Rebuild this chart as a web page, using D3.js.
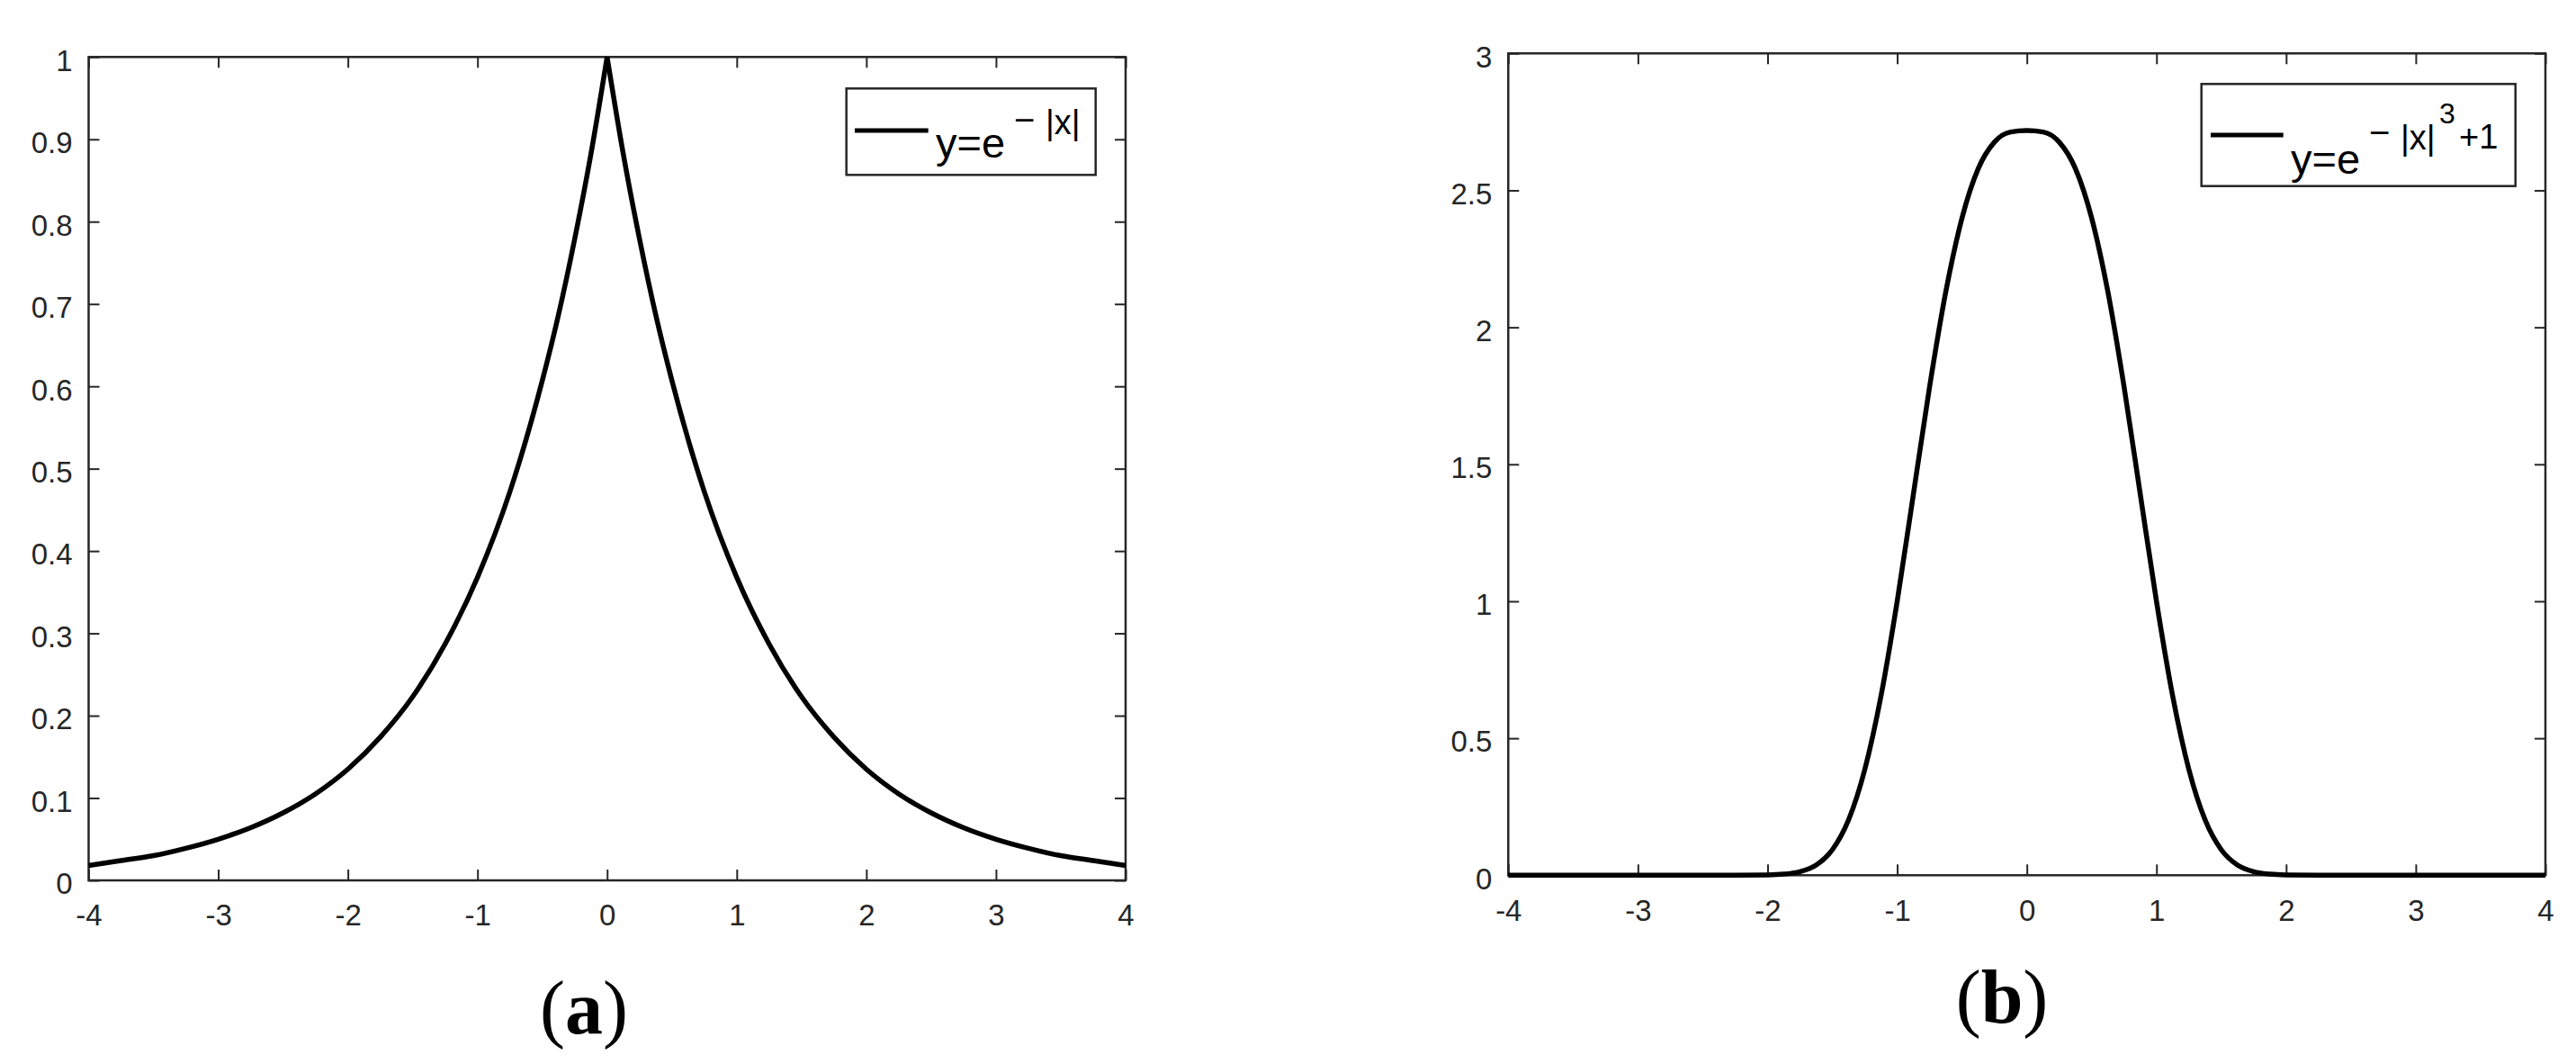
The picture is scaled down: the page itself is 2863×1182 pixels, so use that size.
<!DOCTYPE html>
<html>
<head>
<meta charset="utf-8">
<script src="https://cdn.jsdelivr.net/npm/d3@7"></script>
<style>
  html, body { margin: 0; padding: 0; background: #fff; }
  svg { display: block; }
</style>
</head>
<body>
<svg id="chart" width="2863" height="1182"></svg>
<script>
// ---------- data ----------
const xTickValues = [-4, -3, -2, -1, 0, 1, 2, 3, 4];
const xTickLabels = ["-4", "-3", "-2", "-1", "0", "1", "2", "3", "4"];

const leftYTicks = [0, 0.1, 0.2, 0.3, 0.4, 0.5, 0.6, 0.7, 0.8, 0.9, 1];
const leftYLabels = ["0", "0.1", "0.2", "0.3", "0.4", "0.5", "0.6", "0.7", "0.8", "0.9", "1"];
const rightYTicks = [0, 0.5, 1, 1.5, 2, 2.5, 3];
const rightYLabels = ["0", "0.5", "1", "1.5", "2", "2.5", "3"];

// panel (a): y = e^{-|x|}
const leftX = [-4, -3.75, -3.5, -3.25, -3, -2.75, -2.5, -2.25, -2, -1.75, -1.5, -1.25, -1, -0.75, -0.5, -0.375, -0.25, -0.125, 0,
               0.125, 0.25, 0.375, 0.5, 0.75, 1, 1.25, 1.5, 1.75, 2, 2.25, 2.5, 2.75, 3, 3.25, 3.5, 3.75, 4];
const leftY = [0.018, 0.024, 0.030, 0.039, 0.050, 0.064, 0.082, 0.105, 0.135, 0.174, 0.223, 0.287, 0.368, 0.472, 0.607, 0.687, 0.779, 0.882, 1.0,
               0.882, 0.779, 0.687, 0.607, 0.472, 0.368, 0.287, 0.223, 0.174, 0.135, 0.105, 0.082, 0.064, 0.050, 0.039, 0.030, 0.024, 0.018];

// panel (b): y = e^{-|x|^3+1}
const rightX = [-4, -3.5, -3, -2.5, -2.25, -2, -1.875, -1.75, -1.625, -1.5, -1.375, -1.25, -1.125, -1, -0.875, -0.75, -0.625, -0.5, -0.375, -0.25, -0.125, 0,
                0.125, 0.25, 0.375, 0.5, 0.625, 0.75, 0.875, 1, 1.125, 1.25, 1.375, 1.5, 1.625, 1.75, 1.875, 2, 2.25, 2.5, 3, 3.5, 4];
const rightY = [0, 0, 0, 0, 0, 0.001, 0.004, 0.013, 0.037, 0.093, 0.202, 0.386, 0.654, 1.0, 1.391, 1.783, 2.130, 2.399, 2.579, 2.676, 2.713, 2.718,
                2.713, 2.676, 2.579, 2.399, 2.130, 1.783, 1.391, 1.0, 0.654, 0.386, 0.202, 0.093, 0.037, 0.013, 0.004, 0.001, 0, 0, 0, 0, 0];

// ---------- drawing ----------
const svg = d3.select("#chart");
const AX = "#262626";
const TICK_FONT = "'Liberation Sans', Arial, sans-serif";

function panel(cfg) {
  const x = d3.scaleLinear().domain([-4, 4]).range([cfg.x0, cfg.x1]);
  const y = d3.scaleLinear().domain(cfg.yDomain).range([cfg.y0, cfg.y1]);
  const g = svg.append("g");
  const tick = 12;

  const styleAxis = sel => {
    sel.select(".domain").remove();
    sel.selectAll(".tick line").attr("stroke", AX).attr("stroke-width", 2);
    sel.selectAll(".tick text").attr("fill", AX).style("font-family", TICK_FONT).style("font-size", "33px");
  };

  const bottom = g.append("g").attr("transform", `translate(0,${cfg.y0})`)
    .call(d3.axisBottom(x).tickValues(xTickValues).tickFormat((d, i) => xTickLabels[i])
      .tickSizeInner(-tick).tickSizeOuter(0).tickPadding(27));
  styleAxis(bottom);
  const top = g.append("g").attr("transform", `translate(0,${cfg.y1})`)
    .call(d3.axisTop(x).tickValues(xTickValues).tickFormat("").tickSizeInner(-tick).tickSizeOuter(0));
  styleAxis(top);
  const left = g.append("g").attr("transform", `translate(${cfg.x0},0)`)
    .call(d3.axisLeft(y).tickValues(cfg.yTicks).tickFormat((d, i) => cfg.yLabels[i])
      .tickSizeInner(-tick).tickSizeOuter(0).tickPadding(18));
  styleAxis(left);
  left.selectAll(".tick text").attr("dy", "0.45em");
  const right = g.append("g").attr("transform", `translate(${cfg.x1},0)`)
    .call(d3.axisRight(y).tickValues(cfg.yTicks).tickFormat("").tickSizeInner(-tick).tickSizeOuter(0));
  styleAxis(right);

  // box
  g.append("rect").attr("x", cfg.x0).attr("y", cfg.y1)
    .attr("width", cfg.x1 - cfg.x0).attr("height", cfg.y0 - cfg.y1)
    .attr("fill", "none").attr("stroke", AX).attr("stroke-width", 2.5);

  // curve
  const line = d3.line().x(d => x(d[0])).y(d => y(d[1])).curve(d3.curveMonotoneX);
  cfg.segments.forEach(seg => {
    g.append("path").datum(seg).attr("d", line)
      .attr("fill", "none").attr("stroke", "#000").attr("stroke-width", 5.5)
      .attr("stroke-linejoin", "round");
  });

  // legend
  const L = cfg.legend;
  g.append("rect").attr("x", L.bx0).attr("y", L.by0)
    .attr("width", L.bx1 - L.bx0).attr("height", L.by1 - L.by0)
    .attr("fill", "#fff").attr("stroke", AX).attr("stroke-width", 2.5);
  g.append("line").attr("x1", L.lx0).attr("x2", L.lx1).attr("y1", L.ly).attr("y2", L.ly)
    .attr("stroke", "#000").attr("stroke-width", 5);
  const t = g.append("text").attr("fill", "#000").style("font-family", TICK_FONT);
  L.parts.forEach(p => {
    t.append("tspan").attr("x", p.x).attr("y", p.y).style("font-size", p.size + "px").text(p.text);
  });

  // panel label
  const lab = svg.append("text").attr("x", cfg.label.x).attr("y", cfg.label.y)
    .attr("text-anchor", "middle").attr("fill", "#000")
    .style("font-family", "'Liberation Serif', 'Times New Roman', serif").style("font-size", "84px");
  lab.append("tspan").text("(");
  lab.append("tspan").style("font-weight", "bold").text(cfg.label.text);
  lab.append("tspan").text(")");
}

const leftPts = leftX.map((v, i) => [v, leftY[i]]);
const rightPts = rightX.map((v, i) => [v, rightY[i]]);

panel({
  x0: 98.5, x1: 1251, y0: 978, y1: 63.3, yDomain: [0, 1],
  yTicks: leftYTicks, yLabels: leftYLabels,
  segments: [leftPts.filter(d => d[0] <= 0), leftPts.filter(d => d[0] >= 0)],
  legend: {
    bx0: 940.7, bx1: 1217.7, by0: 98.3, by1: 194.3, lx0: 950, lx1: 1031.7, ly: 145,
    parts: [
      { text: "y=e", x: 1040, y: 175, size: 47 },
      { text: "\u2212", x: 1127, y: 147, size: 40 },
      { text: "|x|", x: 1162, y: 149, size: 38 }
    ]
  },
  label: { x: 649, y: 1148, text: "a" }
});

panel({
  x0: 1676.3, x1: 2829, y0: 972.3, y1: 59.3, yDomain: [0, 3],
  yTicks: rightYTicks, yLabels: rightYLabels,
  segments: [rightPts],
  legend: {
    bx0: 2446.7, bx1: 2795.7, by0: 93.3, by1: 206.7, lx0: 2457, lx1: 2537.7, ly: 150,
    parts: [
      { text: "y=e", x: 2546, y: 193, size: 47 },
      { text: "\u2212", x: 2633, y: 161, size: 40 },
      { text: "|x|", x: 2668, y: 166, size: 38 },
      { text: "3", x: 2711, y: 137, size: 32 },
      { text: "+1", x: 2733, y: 165, size: 38 }
    ]
  },
  label: { x: 2225, y: 1136, text: "b" }
});
</script>
</body>
</html>
